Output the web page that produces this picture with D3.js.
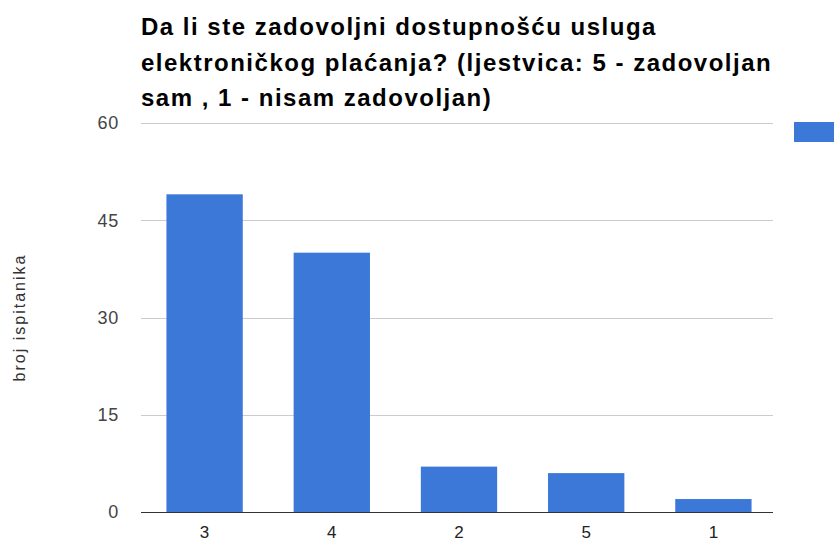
<!DOCTYPE html>
<html>
<head>
<meta charset="utf-8">
<script src="https://cdn.jsdelivr.net/npm/d3@7/dist/d3.min.js"></script>
<style>
  html, body { margin: 0; padding: 0; background: #fff; }
  svg { display: block; font-family: "Liberation Sans", Arial, sans-serif; }
</style>
</head>
<body>
<svg id="chart" width="834" height="542"></svg>
<script>
// Survey answers: rating on the 1–5 scale and number of respondents
const categories = ["3", "4", "2", "5", "1"];
const counts = [49, 40, 7, 6, 2];
const yTicks = [0, 15, 30, 45, 60];
const titleLines = [
  "Da li ste zadovoljni dostupnošću usluga",
  "elektroničkog plaćanja? (ljestvica: 5 - zadovoljan",
  "sam , 1 - nisam zadovoljan)"
];
const yTitle = "broj ispitanika";

const svg = d3.select("#chart");
const plot = { left: 141, right: 773, top: 123, bottom: 512 };
const barColor = "#3c78d8";

const x = d3.scaleBand()
  .domain(categories)
  .range([plot.left, plot.left + 5 * 127.2])
  .paddingInner(0.4)
  .paddingOuter(0.2);

const y = d3.scaleLinear()
  .domain([0, 60])
  .range([plot.bottom, plot.top]);

// Title
svg.append("g")
  .selectAll("text")
  .data(titleLines)
  .join("text")
  .attr("x", 141)
  .attr("y", (d, i) => 35 + i * 35.5)
  .attr("font-size", 24)
  .attr("letter-spacing", 1.5)
  .attr("font-weight", "bold")
  .attr("fill", "#000")
  .text(d => d);

// Horizontal gridlines
svg.append("g")
  .selectAll("line")
  .data(yTicks.filter(t => t !== 0))
  .join("line")
  .attr("x1", plot.left)
  .attr("x2", plot.right)
  .attr("y1", d => Math.round(y(d)) + 0.5)
  .attr("y2", d => Math.round(y(d)) + 0.5)
  .attr("stroke", "#cccccc")
  .attr("stroke-width", 1);

// Y axis tick labels
const yAxis = d3.axisLeft(y).tickValues(yTicks).tickSize(0).tickPadding(0);
const yg = svg.append("g")
  .attr("transform", `translate(${plot.left - 22},0)`)
  .call(yAxis);
yg.select(".domain").remove();
yg.selectAll("text")
  .attr("font-size", 18)
  .attr("letter-spacing", 0.8)
  .attr("font-family", "Liberation Sans, Arial, sans-serif")
  .attr("fill", "#444");

// Y axis title
svg.append("text")
  .attr("transform", `translate(25,${(plot.top + plot.bottom) / 2}) rotate(-90)`)
  .attr("text-anchor", "middle")
  .attr("font-size", 16)
  .attr("letter-spacing", 2)
  .attr("fill", "#333")
  .text(yTitle);

// Bars
svg.append("g")
  .selectAll("rect")
  .data(categories.map((c, i) => ({ c, v: counts[i] })))
  .join("rect")
  .attr("x", d => x(d.c))
  .attr("width", x.bandwidth())
  .attr("y", d => y(d.v))
  .attr("height", d => y(0) - y(d.v))
  .attr("fill", barColor);

// Baseline
svg.append("line")
  .attr("x1", plot.left)
  .attr("x2", plot.right)
  .attr("y1", plot.bottom + 0.5)
  .attr("y2", plot.bottom + 0.5)
  .attr("stroke", "#333")
  .attr("stroke-width", 1);

// X axis category labels
const xAxis = d3.axisBottom(x).tickSize(0).tickPadding(0);
const xg = svg.append("g")
  .attr("transform", `translate(0,${plot.bottom + 26})`)
  .call(xAxis);
xg.select(".domain").remove();
xg.selectAll("text")
  .attr("dy", 0)
  .attr("font-size", 17)
  .attr("font-family", "Liberation Sans, Arial, sans-serif")
  .attr("fill", "#222");

// Legend swatch (clipped at the right edge)
svg.append("rect")
  .attr("x", 794)
  .attr("y", 122)
  .attr("width", 60)
  .attr("height", 20)
  .attr("fill", barColor);
</script>
</body>
</html>
